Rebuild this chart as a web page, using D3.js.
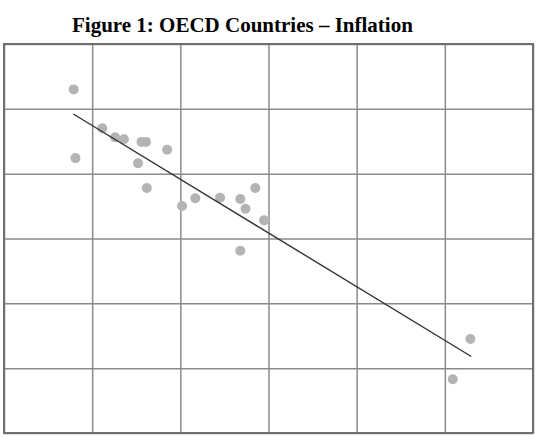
<!DOCTYPE html>
<html><head><meta charset="utf-8">
<script src="https://cdn.jsdelivr.net/npm/d3@7"></script>
<style>body{margin:0;background:#fff}</style>
</head><body>
<svg id="c" width="556" height="438"></svg>
<script>
const title = "Figure 1: OECD Countries – Inflation";
const xValues = [0.79,0.81,1.115,1.26,1.36,1.56,1.61,1.85,1.52,1.62,2.02,2.17,2.45,2.68,2.85,2.74,2.95,2.68,5.29,5.09];
const yValues = [5.30,4.24,4.70,4.56,4.53,4.49,4.49,4.37,4.16,3.78,3.50,3.62,3.63,3.61,3.78,3.46,3.28,2.81,1.45,0.83];
const trendX = [0.786, 5.30];
const trendY = [4.92, 1.18];
const xTicks = [0,1,2,3,4,5,6];
const yTicks = [0,1,2,3,4,5,6];

const svg = d3.select("#c");
const L=4, R=533, T=44, B=433;
const x = d3.scaleLinear().domain([0,6]).range([L,R]);
const y = d3.scaleLinear().domain([0,6]).range([B,T]);

svg.append("text").attr("x",72).attr("y",32)
  .attr("font-family","'Liberation Serif', 'Times New Roman', serif")
  .attr("font-weight","bold").attr("font-size",21).attr("fill","#000")
  .text(title);

// grid via axes
svg.append("g").attr("transform",`translate(0,${B})`)
  .call(d3.axisBottom(x).tickValues(xTicks).tickSize(-(B-T)).tickFormat(""))
  .call(g=>{g.select(".domain").remove(); g.selectAll("line").attr("stroke","#8a8a8a").attr("stroke-width",1.5);});
svg.append("g").attr("transform",`translate(${L},0)`)
  .call(d3.axisLeft(y).tickValues(yTicks).tickSize(-(R-L)).tickFormat(""))
  .call(g=>{g.select(".domain").remove(); g.selectAll("line").attr("stroke","#8a8a8a").attr("stroke-width",1.5);});

svg.append("rect").attr("x",L).attr("y",T).attr("width",R-L).attr("height",B-T)
  .attr("fill","none").attr("stroke","#6e6e6e").attr("stroke-width",2);

const pts = xValues.map((v,i)=>({x:v,y:yValues[i]}));
svg.append("g").selectAll("circle").data(pts).join("circle")
  .attr("cx",d=>x(d.x)).attr("cy",d=>y(d.y)).attr("r",5).attr("fill","#b4b4b4");

const line = d3.line().x(d=>x(d[0])).y(d=>y(d[1]));
svg.append("path").datum(trendX.map((v,i)=>[v,trendY[i]]))
  .attr("d",line).attr("stroke","#333").attr("stroke-width",1.4).attr("fill","none");
</script>
</body></html>
